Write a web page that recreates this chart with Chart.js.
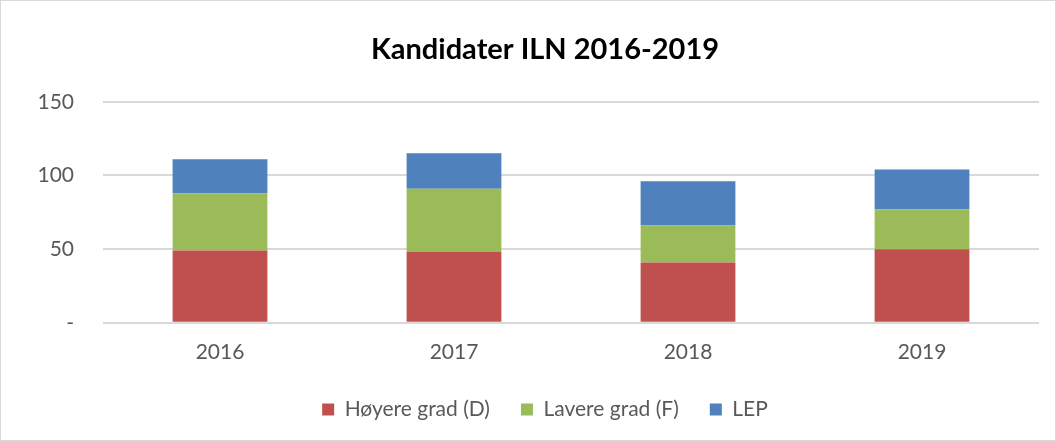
<!DOCTYPE html>
<html lang="no">
<head>
    <meta charset="UTF-8">
    <title>Kandidater ILN 2016-2019</title>
    <style>
        html, body {
            margin: 0;
            padding: 0;
            background: #fff;
        }
        #chart-box {
            position: relative;
            width: 1054px;
            height: 439px;
            border: 1px solid #d9d9d9;
        }
    </style>
</head>
<body>
    <div id="chart-box">
        <canvas id="chart"></canvas>
    </div>

    <script src="https://cdn.jsdelivr.net/npm/chart.js"></script>
    <script>
        // data
        const years = ['2016', '2017', '2018', '2019'];
        const hoyereGrad = [49, 48, 41, 50];
        const lavereGrad = [39, 43, 25, 27];
        const lep = [23, 24, 30, 27];
        const yTicks = [0, 50, 100, 150];

        const textColor = '#595959';
        const fontFamily = 'Lato, "Liberation Sans", sans-serif';

        const ctx = document.getElementById('chart').getContext('2d');
        new Chart(ctx, {
            type: 'bar',
            data: {
                labels: years,
                datasets: [
                    { label: 'Høyere grad (D)', data: hoyereGrad, backgroundColor: '#c0504d' },
                    { label: 'Lavere grad (F)', data: lavereGrad, backgroundColor: '#9bbb59' },
                    { label: 'LEP', data: lep, backgroundColor: '#4f81bd' }
                ]
            },
            options: {
                responsive: true,
                maintainAspectRatio: false,
                animation: false,
                datasets: {
                    bar: {
                        categoryPercentage: 1,
                        barPercentage: 0.405
                    }
                },
                layout: {
                    padding: { left: 50, right: 16, top: 0, bottom: 10 }
                },
                plugins: {
                    title: {
                        display: true,
                        text: 'Kandidater ILN 2016-2019',
                        color: '#000',
                        font: { family: fontFamily, size: 29, weight: 'bold' },
                        padding: { top: 31, bottom: 35 }
                    },
                    legend: {
                        position: 'bottom',
                        labels: {
                            color: textColor,
                            boxWidth: 12,
                            boxHeight: 12,
                            padding: 31,
                            font: { family: fontFamily, size: 21 }
                        }
                    },
                    tooltip: { enabled: false }
                },
                scales: {
                    x: {
                        stacked: true,
                        grid: { display: false },
                        border: { display: false },
                        afterFit: function(scale) {
                            scale.height -= 6;
                        },
                        ticks: {
                            color: textColor,
                            padding: 9,
                            font: { family: fontFamily, size: 21 }
                        }
                    },
                    y: {
                        stacked: true,
                        min: 0,
                        max: 150,
                        afterBuildTicks: function(scale) {
                            scale.ticks = yTicks.map(v => ({ value: v }));
                        },
                        afterFit: function(scale) {
                            scale.width = 52;
                            // labels sit in the left padding, so don't clip them to the axis box
                            scale._computeLabelArea = function() { return undefined; };
                        },
                        grid: { color: '#d9d9d9', lineWidth: 2, drawTicks: false },
                        border: { display: false },
                        ticks: {
                            color: textColor,
                            padding: 29,
                            font: { family: fontFamily, size: 21 },
                            callback: function(value) {
                                return value === 0 ? '-' : value;
                            }
                        }
                    }
                }
            }
        });
    </script>
</body>
</html>
